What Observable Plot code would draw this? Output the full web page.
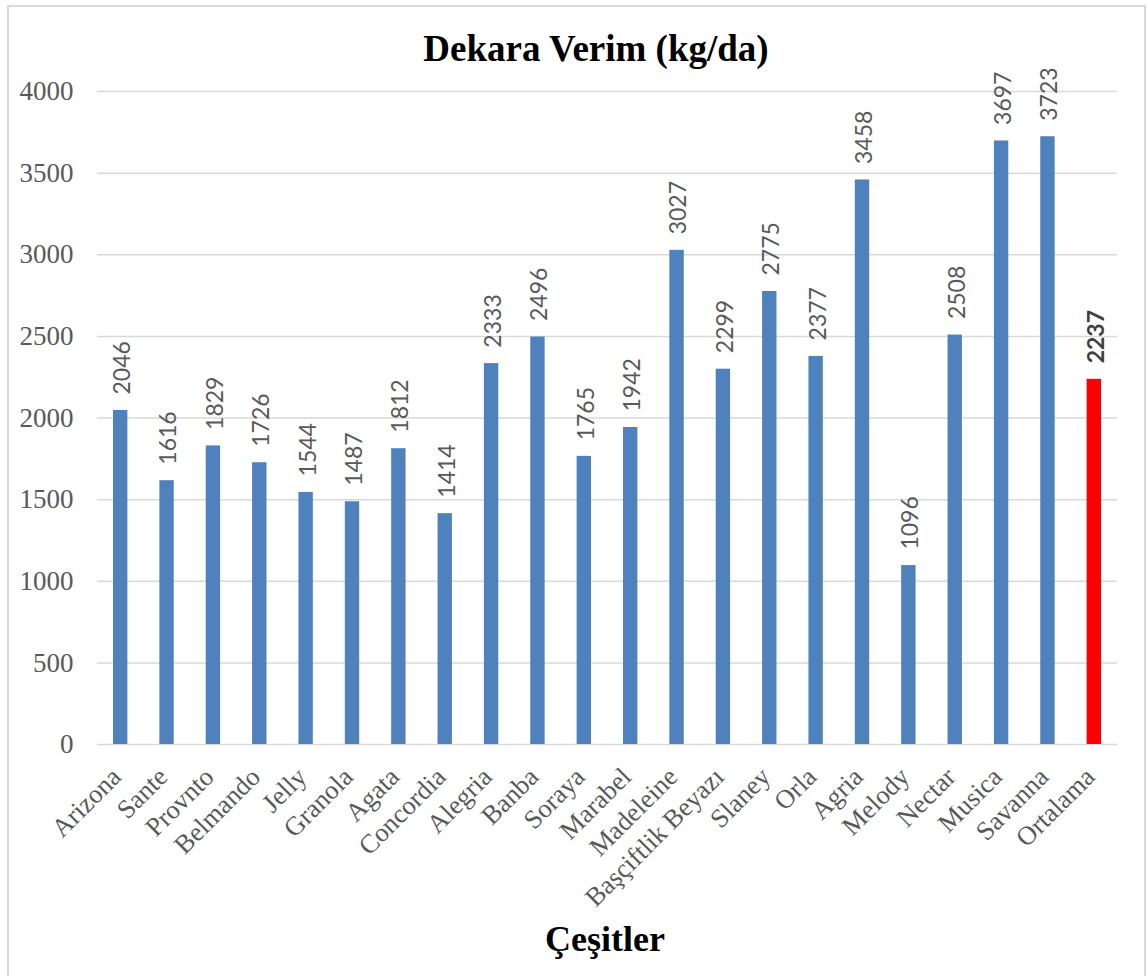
<!DOCTYPE html>
<html>
<head>
<meta charset="utf-8">
<script src="https://cdn.jsdelivr.net/npm/d3@7"></script>
<script src="https://cdn.jsdelivr.net/npm/@observablehq/plot@0.6"></script>
<style>
  html, body { margin: 0; padding: 0; background: #fff; }
  #wrap { position: relative; width: 1147px; height: 976px; overflow: hidden; background: #fff; }
  #frame { position: absolute; left: 7px; top: 5px; width: 1139px; height: 1000px; border: 2px solid #d9d9d9; box-sizing: border-box; }
  #title { position: absolute; left: 0; width: 1192px; top: 27px; text-align: center; font-family: "Liberation Serif", serif; font-weight: bold; font-size: 37px; color: #000; }
  #xlabel { position: absolute; left: 0; width: 1210px; top: 918px; text-align: center; font-family: "Liberation Serif", serif; font-weight: bold; font-size: 36px; color: #000; }
  #chart { position: absolute; left: 0; top: 0; }
</style>
</head>
<body>
<div id="wrap">
  <div id="frame"></div>
  <div id="chart"></div>
  <div id="title">Dekara Verim (kg/da)</div>
  <div id="xlabel">Çeşitler</div>
</div>
<script>
const categories = ["Arizona","Sante","Provnto","Belmando","Jelly","Granola","Agata","Concordia","Alegria","Banba","Soraya","Marabel","Madeleine","Başçiftlik Beyazı","Slaney","Orla","Agria","Melody","Nectar","Musica","Savanna","Ortalama"];
const values = [2046,1616,1829,1726,1544,1487,1812,1414,2333,2496,1765,1942,3027,2299,2775,2377,3458,1096,2508,3697,3723,2237];
const yTicks = [0,500,1000,1500,2000,2500,3000,3500,4000];
const averageLabel = "Ortalama";

const data = categories.map((c, i) => ({category: c, value: values[i], avg: c === averageLabel}));

const plot = Plot.plot({
  width: 1147,
  height: 976,
  marginLeft: 97,
  marginRight: 30,
  marginTop: 91,
  marginBottom: 232,
  style: {background: "transparent", fontFamily: "'Liberation Serif', serif"},
  x: {domain: categories, paddingInner: 0.69, paddingOuter: 0.345, round: false, axis: null},
  y: {domain: [0, 4000], axis: null},
  marks: [
    Plot.ruleY(yTicks, {stroke: "#d9d9d9", strokeWidth: 1.5}),
    Plot.barY(data, {x: "category", y: "value", fill: d => d.avg ? "#ff0000" : "#4f81bd"}),
    Plot.axisY({ticks: yTicks, tickFormat: d => String(d), tickSize: 0, tickPadding: 24, fontSize: 27, color: "#595959", label: null, fontFamily: "'Liberation Serif', serif"}),
    Plot.text(categories, {x: d => d, text: d => d, frameAnchor: "bottom", rotate: -45, textAnchor: "end", lineAnchor: "middle", dx: -4, dy: 28, fontSize: 26.5, fill: "#595959", fontFamily: "'Liberation Serif', serif"}),
    Plot.text(data.filter(d => !d.avg), {x: "category", y: "value", text: d => String(d.value), rotate: -90, textAnchor: "start", lineAnchor: "middle", dx: 2, dy: -16, fontSize: 23, fill: "#595959", fontFamily: "Lato, sans-serif"}),
    Plot.text(data.filter(d => d.avg), {x: "category", y: "value", text: d => String(d.value), rotate: -90, textAnchor: "start", lineAnchor: "middle", dx: 2, dy: -16, fontSize: 23, fontWeight: "bold", fill: "#404040", fontFamily: "Lato, sans-serif"})
  ]
});
document.getElementById("chart").appendChild(plot);
</script>
</body>
</html>
